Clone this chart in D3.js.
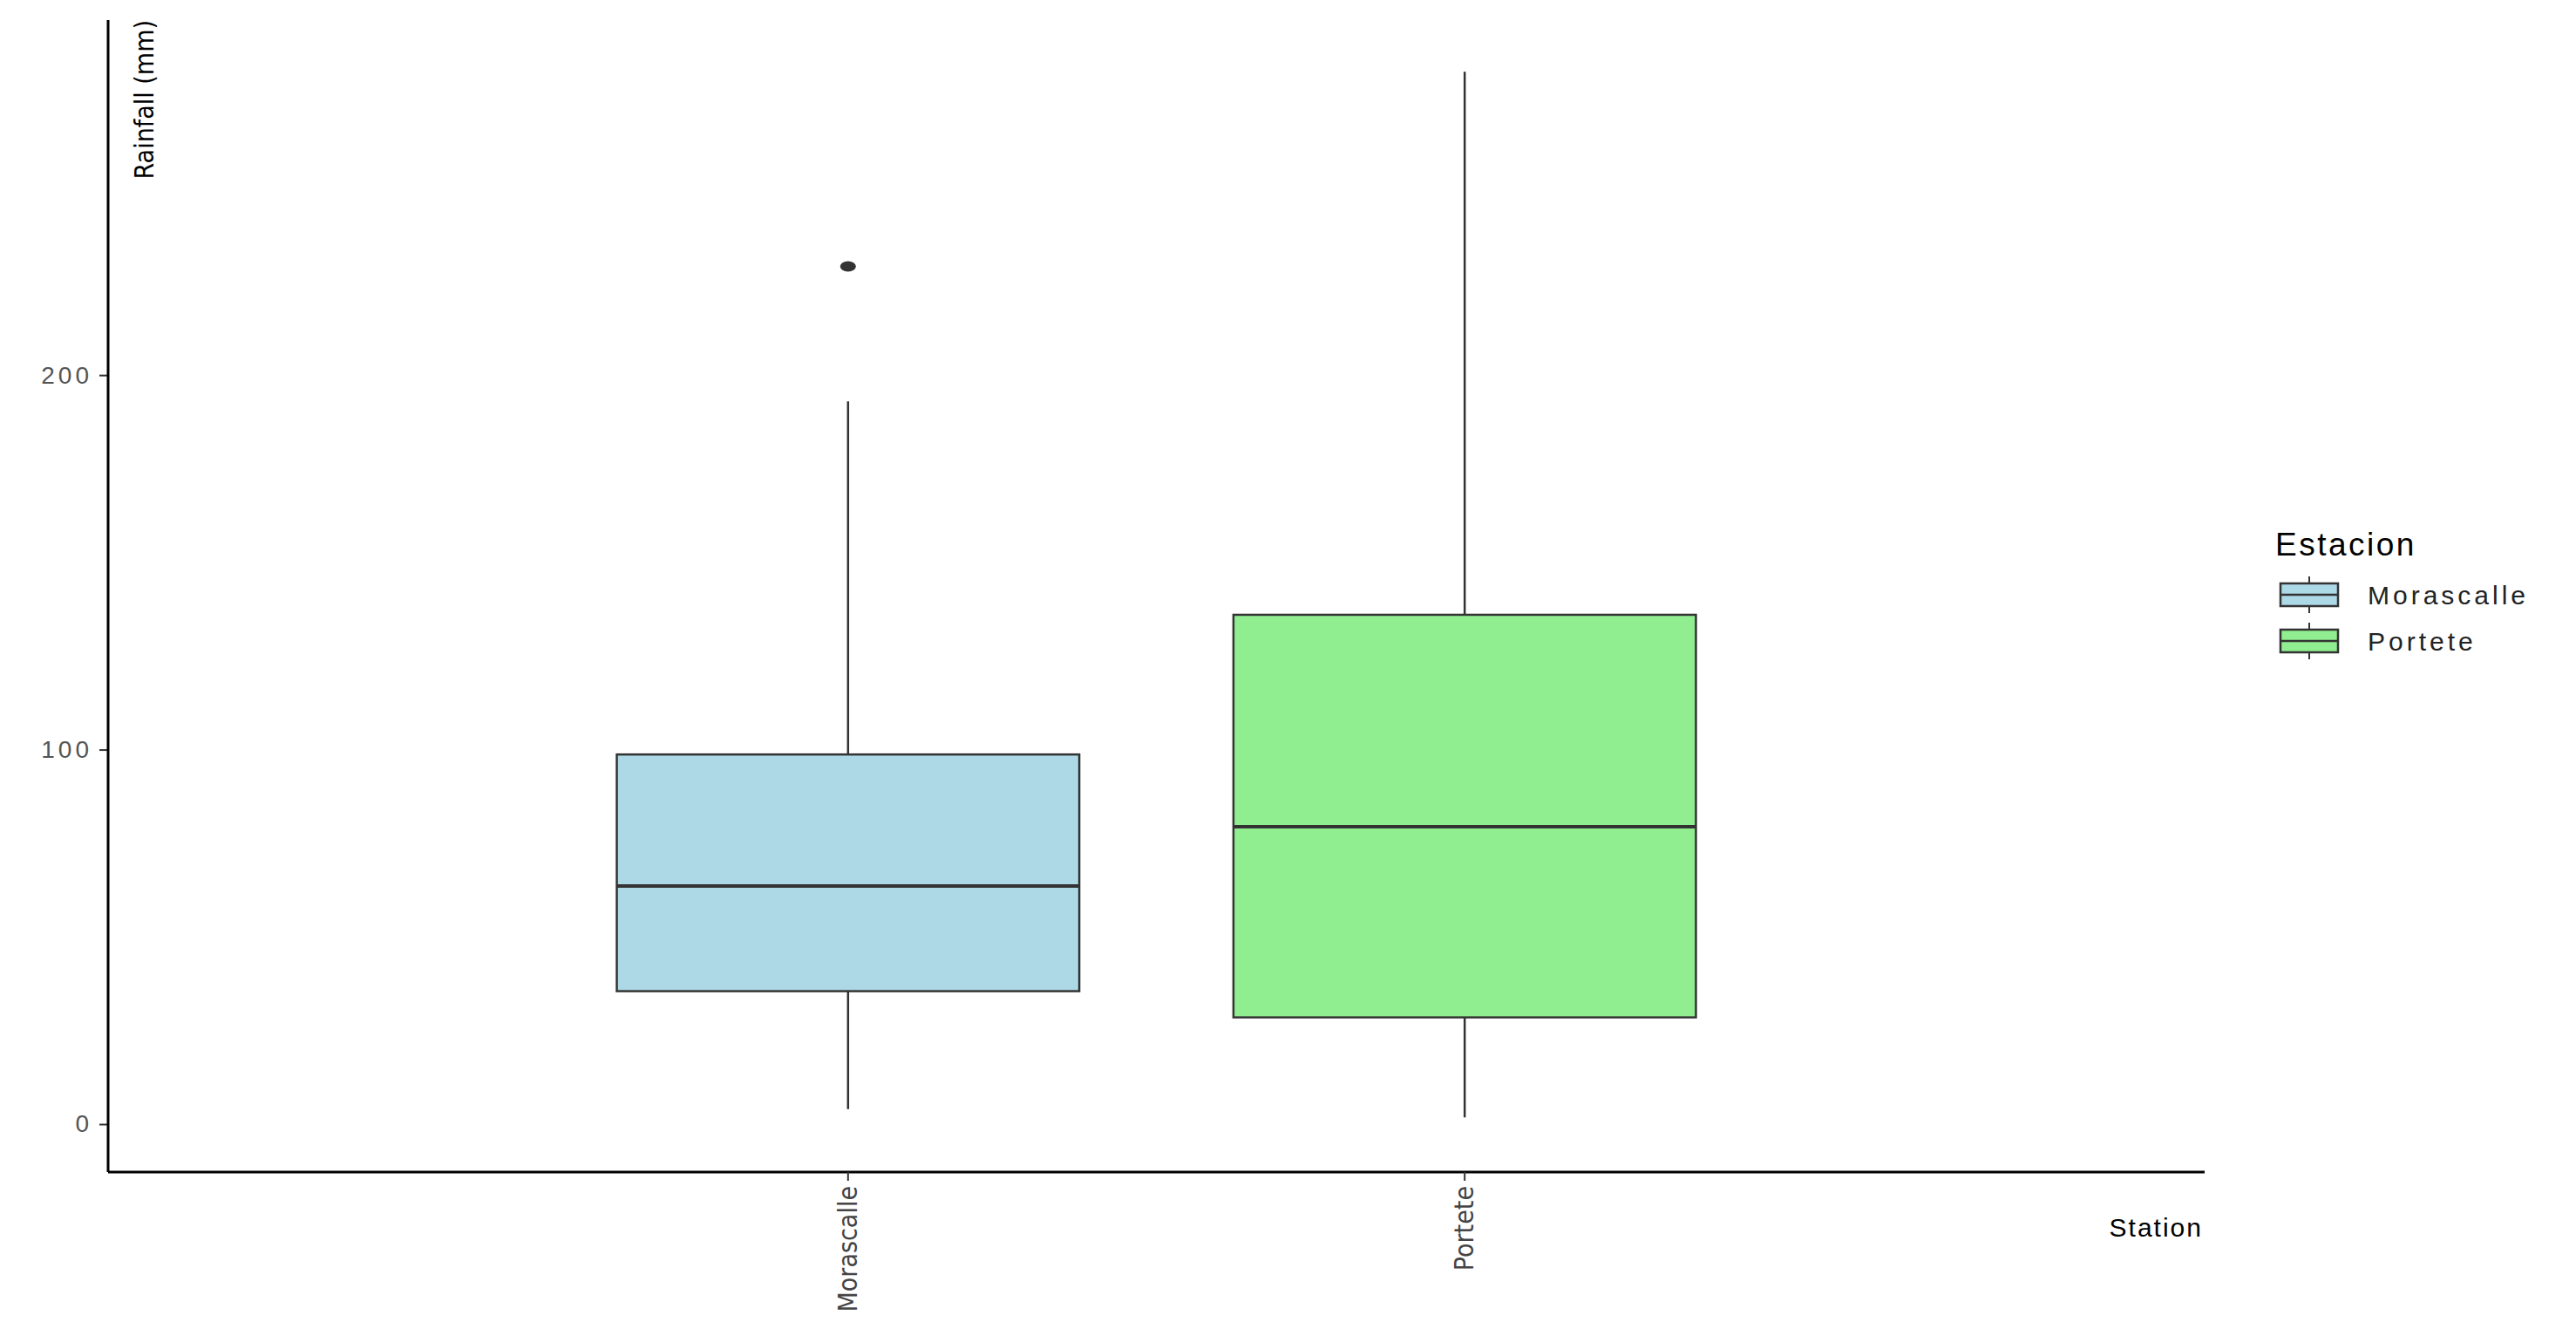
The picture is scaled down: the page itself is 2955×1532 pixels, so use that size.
<!DOCTYPE html>
<html>
<head>
<meta charset="utf-8">
<script src="https://cdn.jsdelivr.net/npm/d3@7"></script>
<style>
body { margin: 0; background: #fff; }
</style>
</head>
<body>
<div id="chart"></div>
<script>
// station summaries
var stations = ["Morascalle", "Portete"];
var fills = ["#add8e6", "#90ee90"];
var whiskerLow = [4, 1.8];
var q1 = [35.5, 28.5];
var medians = [63.6, 79.4];
var q3 = [98.7, 136];
var whiskerHigh = [193, 281];
var outliers = [[229], []];
var yTicks = [0, 100, 200];

var narrow = "'Liberation Sans Narrow', 'DejaVu Sans Condensed', sans-serif";

var width = 2955, height = 1532;
var plotLeft = 124, plotRight = 2529, plotTop = 23, plotBottom = 1344;

var svg = d3.select("#chart").append("svg")
	.attr("width", width).attr("height", height);

// ggplot discrete expansion: 0.6 units each side, 1 unit between centres
var x = d3.scalePoint().domain(stations).range([plotLeft, plotRight]).padding(1.2);
var unit = x.step();

var y = d3.scaleLinear().domain([-12.8, 294.8]).range([plotBottom, plotTop]);

// axes
var yAxis = svg.append("g").attr("transform", "translate(" + plotLeft + ",0)")
	.call(d3.axisLeft(y).tickValues(yTicks).tickSize(10).tickPadding(8));
yAxis.select(".domain").remove();
yAxis.selectAll("line").attr("stroke", "#333").attr("stroke-width", 2);
yAxis.selectAll("text").attr("font-family", "Liberation Sans").attr("font-size", 28)
	.attr("fill", "#555").attr("letter-spacing", 4);

svg.append("line").attr("x1", plotLeft).attr("x2", plotLeft).attr("y1", plotTop).attr("y2", plotBottom)
	.attr("stroke", "#000").attr("stroke-width", 3);
svg.append("line").attr("x1", plotLeft).attr("x2", plotRight).attr("y1", plotBottom).attr("y2", plotBottom)
	.attr("stroke", "#000").attr("stroke-width", 3);

var boxW = unit * 0.75;

stations.forEach(function(name, i){
	var c = x(name);
	var g = svg.append("g");
	g.append("line").attr("x1", c).attr("x2", c).attr("y1", y(whiskerHigh[i])).attr("y2", y(q3[i]))
		.attr("stroke", "#333").attr("stroke-width", 2.5);
	g.append("line").attr("x1", c).attr("x2", c).attr("y1", y(q1[i])).attr("y2", y(whiskerLow[i]))
		.attr("stroke", "#333").attr("stroke-width", 2.5);
	g.append("rect").attr("x", c - boxW / 2).attr("width", boxW)
		.attr("y", y(q3[i])).attr("height", y(q1[i]) - y(q3[i]))
		.attr("fill", fills[i]).attr("stroke", "#333").attr("stroke-width", 2.5);
	g.append("line").attr("x1", c - boxW / 2).attr("x2", c + boxW / 2)
		.attr("y1", y(medians[i])).attr("y2", y(medians[i]))
		.attr("stroke", "#333").attr("stroke-width", 4);
	outliers[i].forEach(function(v){
		g.append("ellipse").attr("cx", c).attr("cy", y(v)).attr("rx", 9).attr("ry", 6).attr("fill", "#333");
	});
	// x tick and rotated label
	svg.append("line").attr("x1", c).attr("x2", c).attr("y1", plotBottom).attr("y2", plotBottom + 10)
		.attr("stroke", "#333").attr("stroke-width", 2);
	svg.append("text").attr("transform", "translate(" + (c + 10) + "," + (plotBottom + 16) + ") rotate(-90)")
		.attr("text-anchor", "end").attr("font-family", narrow)
		.attr("font-size", 30).attr("fill", "#444").text(name);
});

svg.append("text").attr("transform", "translate(176,23) rotate(-90)")
	.attr("text-anchor", "end").attr("font-family", narrow)
	.attr("font-size", 30).attr("fill", "#000").text("Rainfall (mm)");

svg.append("text").attr("x", 2527).attr("y", 1418).attr("text-anchor", "end")
	.attr("font-family", "Liberation Sans").attr("font-size", 30).attr("letter-spacing", 2)
	.attr("fill", "#000").text("Station");

// legend
svg.append("text").attr("x", 2610).attr("y", 637).attr("font-family", "Liberation Sans")
	.attr("font-size", 37).attr("letter-spacing", 2.5).text("Estacion");
stations.forEach(function(name, i){
	var ly = 669 + i * 53;
	var lg = svg.append("g");
	lg.append("line").attr("x1", 2649).attr("x2", 2649).attr("y1", ly - 8).attr("y2", ly + 34)
		.attr("stroke", "#333").attr("stroke-width", 2);
	lg.append("rect").attr("x", 2616).attr("y", ly).attr("width", 66).attr("height", 26)
		.attr("fill", fills[i]).attr("stroke", "#333").attr("stroke-width", 2.5);
	lg.append("line").attr("x1", 2616).attr("x2", 2682).attr("y1", ly + 13).attr("y2", ly + 13)
		.attr("stroke", "#333").attr("stroke-width", 2.5);
	lg.append("text").attr("x", 2716).attr("y", ly + 24).attr("font-family", "Liberation Sans")
		.attr("font-size", 30).attr("letter-spacing", 4).attr("fill", "#222").text(name);
});
</script>
</body>
</html>
